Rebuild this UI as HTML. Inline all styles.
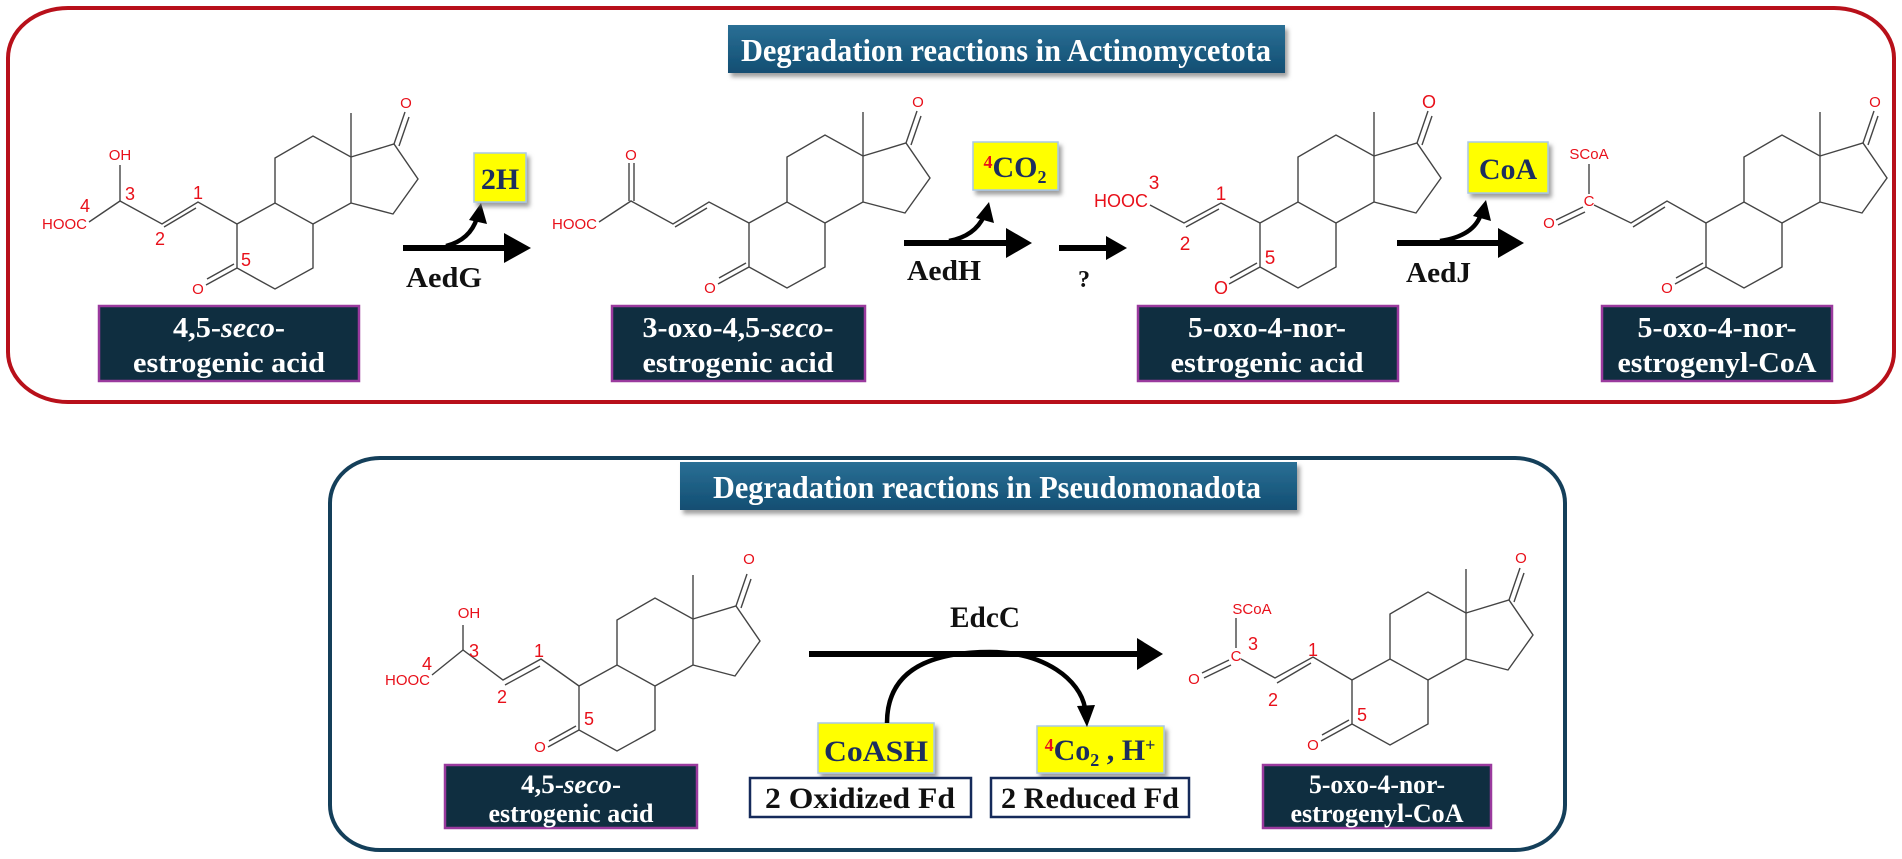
<!DOCTYPE html>
<html><head><meta charset="utf-8"><style>
html,body{margin:0;padding:0;background:#fff;}
svg{display:block;}
.b{stroke:#444;stroke-width:1.4;fill:none;}
.r{fill:#e8101a;font-family:"Liberation Sans",sans-serif;}
.s{font-family:"Liberation Serif",serif;font-weight:bold;}
</style></head><body>
<svg width="1902" height="859" viewBox="0 0 1902 859" xmlns="http://www.w3.org/2000/svg">
<defs>
<g id="core" class="b">
<polyline points="0,0 0,44 38,65 76,44 76,0 38,-21 0,0"/>
<polyline points="38,-21 38,-66 76,-88 114,-67 114,-21 76,0"/>
<line x1="114" y1="-67" x2="114" y2="-111"/>
<polyline points="114,-67 157,-80 181,-45 156,-10 114,-21"/>
<line x1="157" y1="-80" x2="168" y2="-112"/>
<line x1="162" y1="-78" x2="172" y2="-107"/>
<line x1="0" y1="44" x2="-31" y2="61"/>
<line x1="-3" y1="40" x2="-30" y2="55"/>
</g>
<filter id="sh" x="-10%" y="-10%" width="130%" height="140%"><feDropShadow dx="3" dy="4" stdDeviation="2" flood-color="#777" flood-opacity="0.7"/></filter>
<linearGradient id="tg" x1="0" y1="0" x2="0" y2="1"><stop offset="0" stop-color="#2a6f95"/><stop offset="1" stop-color="#124e72"/></linearGradient>
</defs>

<rect x="8" y="8" width="1886" height="394" rx="60" ry="50" fill="none" stroke="#b8101a" stroke-width="4"/>
<rect x="330" y="458" width="1235" height="392" rx="50" ry="45" fill="none" stroke="#143f5a" stroke-width="4"/>

<rect x="728" y="25" width="557" height="48" fill="url(#tg)" filter="url(#sh)"/>
<text x="1006" y="61" text-anchor="middle" class="s" font-size="32" fill="#fff" textLength="530" lengthAdjust="spacingAndGlyphs">Degradation reactions in Actinomycetota</text>
<rect x="680" y="462" width="617" height="48" fill="url(#tg)" filter="url(#sh)"/>
<text x="987" y="498" text-anchor="middle" class="s" font-size="32" fill="#fff" textLength="548" lengthAdjust="spacingAndGlyphs">Degradation reactions in Pseudomonadota</text>

<use href="#core" transform="translate(237,224)"/>
<g class="b">
<polyline points="237,224 198,202 162,224 120,201 89,222"/>
<line x1="196" y1="208" x2="164" y2="227"/>
<line x1="120" y1="201" x2="120" y2="165"/>
</g>
<g class="r" font-size="15">
<text x="87" y="229" text-anchor="end">HOOC</text>
<text x="120" y="160" text-anchor="middle">OH</text>
<text x="406" y="108" text-anchor="middle">O</text>
<text x="198" y="294" text-anchor="middle">O</text>
</g>
<g class="r" font-size="18" text-anchor="middle">
<text x="85" y="212">4</text><text x="130" y="200">3</text><text x="198" y="199">1</text><text x="160" y="245">2</text><text x="246" y="266">5</text>
</g>

<use href="#core" transform="translate(749,223)"/>
<g class="b">
<polyline points="749,223 709,202 673,224 631,201 599,222"/>
<line x1="707" y1="208" x2="675" y2="227"/>
<line x1="629" y1="201" x2="629" y2="163"/>
<line x1="634" y1="201" x2="634" y2="163"/>
</g>
<g class="r" font-size="15">
<text x="597" y="229" text-anchor="end">HOOC</text>
<text x="631" y="160" text-anchor="middle">O</text>
<text x="918" y="107" text-anchor="middle">O</text>
<text x="710" y="293" text-anchor="middle">O</text>
</g>

<use href="#core" transform="translate(1260,223)"/>
<g class="b">
<polyline points="1260,223 1221,203 1184,223 1150,205"/>
<line x1="1219" y1="209" x2="1186" y2="227"/>
</g>
<g class="r" font-size="18">
<text x="1148" y="207" text-anchor="end">HOOC</text>
<text x="1429" y="108" text-anchor="middle">O</text>
<text x="1221" y="294" text-anchor="middle">O</text>
</g>
<g class="r" font-size="19" text-anchor="middle">
<text x="1154" y="189">3</text><text x="1221" y="200">1</text><text x="1185" y="250">2</text><text x="1270" y="264">5</text>
</g>

<use href="#core" transform="translate(1706,223)"/>
<g class="b">
<polyline points="1706,223 1667,201 1631,223 1594,205"/>
<line x1="1665" y1="207" x2="1633" y2="227"/>
<line x1="1589" y1="194" x2="1589" y2="164"/>
<line x1="1583" y1="207" x2="1556" y2="220"/>
<line x1="1585" y1="212" x2="1558" y2="225"/>
</g>
<g class="r" font-size="15">
<text x="1589" y="206" text-anchor="middle">C</text>
<text x="1589" y="159" text-anchor="middle">SCoA</text>
<text x="1549" y="228" text-anchor="middle">O</text>
<text x="1875" y="107" text-anchor="middle">O</text>
<text x="1667" y="293" text-anchor="middle">O</text>
</g>

<g stroke="#9a3a9e" stroke-width="2.5" fill="#0f2e40">
<rect x="99" y="306" width="260" height="75"/>
<rect x="612" y="306" width="253" height="75"/>
<rect x="1138" y="306" width="260" height="75"/>
<rect x="1602" y="306" width="230" height="75"/>
</g>
<g class="s" font-size="29" fill="#fff" text-anchor="middle">
<text x="229" y="337" textLength="112" lengthAdjust="spacingAndGlyphs">4,5-<tspan font-style="italic">seco</tspan>-</text>
<text x="229" y="372" textLength="192" lengthAdjust="spacingAndGlyphs">estrogenic acid</text>
<text x="738" y="337" textLength="191" lengthAdjust="spacingAndGlyphs">3-oxo-4,5-<tspan font-style="italic">seco</tspan>-</text>
<text x="738" y="372" textLength="191" lengthAdjust="spacingAndGlyphs">estrogenic acid</text>
<text x="1267" y="337" textLength="158" lengthAdjust="spacingAndGlyphs">5-oxo-4-nor-</text>
<text x="1267" y="372" textLength="193" lengthAdjust="spacingAndGlyphs">estrogenic acid</text>
<text x="1717" y="337" textLength="159" lengthAdjust="spacingAndGlyphs">5-oxo-4-nor-</text>
<text x="1717" y="372" textLength="199" lengthAdjust="spacingAndGlyphs">estrogenyl-CoA</text>
</g>

<g fill="#000">
<rect x="403" y="245" width="105" height="6"/><polygon points="504,233 531,248 504,263"/>
<rect x="904" y="240" width="106" height="6"/><polygon points="1006,228 1032,243 1006,258"/>
<rect x="1059" y="245" width="50" height="6"/><polygon points="1106,236 1127,248 1106,260"/>
<rect x="1397" y="240" width="105" height="6"/><polygon points="1498,228 1524,243 1498,258"/>
</g>
<g fill="none" stroke="#000" stroke-width="4.5">
<path d="M446,246 Q470,240 477,218"/>
<path d="M949,241 Q975,236 984,216"/>
<path d="M1440,241 Q1474,236 1481,214"/>
</g>
<g fill="#000">
<polygon points="469,220 481,203 487,224"/>
<polygon points="976,218 989,202 994,223"/>
<polygon points="1473,216 1486,200 1491,221"/>
</g>
<g class="s" font-size="29" fill="#111">
<text x="406" y="287" textLength="76" lengthAdjust="spacingAndGlyphs">AedG</text>
<text x="907" y="280" textLength="74" lengthAdjust="spacingAndGlyphs">AedH</text>
<text x="1078" y="287" font-size="24">?</text>
<text x="1406" y="282" textLength="65" lengthAdjust="spacingAndGlyphs">AedJ</text>
</g>

<g fill="#ffff00" stroke="#a9c8e6" stroke-width="1.5" filter="url(#sh)">
<rect x="474" y="153" width="52" height="49"/>
<rect x="973" y="142" width="85" height="48"/>
<rect x="1468" y="142" width="80" height="51"/>
<rect x="818" y="723" width="116" height="50"/>
<rect x="1037" y="726" width="127" height="47"/>
</g>
<g class="s" font-size="30" fill="#1c2e5e" text-anchor="middle">
<text x="500" y="189">2H</text>
<text x="1015" y="177"><tspan fill="#e8101a" font-size="18" dy="-9">4</tspan><tspan dy="9">CO</tspan><tspan font-size="18" dy="6">2</tspan></text>
<text x="1508" y="179">CoA</text>
<text x="876" y="761" textLength="104" lengthAdjust="spacingAndGlyphs">CoASH</text>
<text x="1100" y="760"><tspan fill="#e8101a" font-size="18" dy="-9">4</tspan><tspan dy="9">Co</tspan><tspan font-size="18" dy="6">2</tspan><tspan dy="-6"> , H</tspan><tspan font-size="18" dy="-9">+</tspan></text>
</g>

<g fill="#fff" stroke="#152a5a" stroke-width="2.5">
<rect x="750" y="778" width="221" height="39"/>
<rect x="991" y="778" width="198" height="39"/>
</g>
<g class="s" font-size="30" fill="#111" text-anchor="middle">
<text x="860" y="808" textLength="190" lengthAdjust="spacingAndGlyphs">2 Oxidized Fd</text>
<text x="1090" y="808" textLength="178" lengthAdjust="spacingAndGlyphs">2 Reduced Fd</text>
</g>

<rect x="809" y="651" width="332" height="6" fill="#000"/>
<polygon points="1137,638 1163,654 1137,670" fill="#000"/>
<path d="M887,723 C887,670 930,652 990,652 C1045,652 1080,680 1085,708" fill="none" stroke="#000" stroke-width="4.5"/>
<polygon points="1077,706 1087,727 1095,705" fill="#000"/>
<text x="985" y="627" text-anchor="middle" class="s" font-size="30" fill="#111" textLength="70" lengthAdjust="spacingAndGlyphs">EdcC</text>

<use href="#core" transform="translate(579,686)"/>
<g class="b">
<polyline points="579,686 541,659 503,680 463,650 432,675"/>
<line x1="540" y1="666" x2="505" y2="685"/>
<line x1="463" y1="650" x2="463" y2="625"/>
</g>
<g class="r" font-size="15">
<text x="430" y="685" text-anchor="end">HOOC</text>
<text x="469" y="618" text-anchor="middle">OH</text>
<text x="749" y="564" text-anchor="middle">O</text>
<text x="540" y="752" text-anchor="middle">O</text>
</g>
<g class="r" font-size="18" text-anchor="middle">
<text x="427" y="670">4</text><text x="474" y="657">3</text><text x="539" y="657">1</text><text x="502" y="703">2</text><text x="589" y="725">5</text>
</g>

<use href="#core" transform="translate(1352,680)"/>
<g class="b">
<polyline points="1352,680 1313,657 1275,678 1241,659"/>
<line x1="1311" y1="663" x2="1277" y2="683"/>
<line x1="1236" y1="648" x2="1236" y2="618"/>
<line x1="1229" y1="660" x2="1202" y2="673"/>
<line x1="1231" y1="665" x2="1204" y2="678"/>
</g>
<g class="r" font-size="15">
<text x="1236" y="661" text-anchor="middle">C</text>
<text x="1252" y="614" text-anchor="middle">SCoA</text>
<text x="1194" y="684" text-anchor="middle">O</text>
<text x="1521" y="563" text-anchor="middle">O</text>
<text x="1313" y="750" text-anchor="middle">O</text>
</g>
<g class="r" font-size="18" text-anchor="middle">
<text x="1253" y="650">3</text><text x="1313" y="656">1</text><text x="1273" y="706">2</text><text x="1362" y="721">5</text>
</g>

<g stroke="#9a3a9e" stroke-width="2.5" fill="#0f2e40">
<rect x="445" y="765" width="252" height="63"/>
<rect x="1263" y="765" width="228" height="63"/>
</g>
<g class="s" font-size="26" fill="#fff" text-anchor="middle">
<text x="571" y="793" textLength="100" lengthAdjust="spacingAndGlyphs">4,5-<tspan font-style="italic">seco</tspan>-</text>
<text x="571" y="822" textLength="165" lengthAdjust="spacingAndGlyphs">estrogenic acid</text>
<text x="1377" y="793" textLength="136" lengthAdjust="spacingAndGlyphs">5-oxo-4-nor-</text>
<text x="1377" y="822" textLength="173" lengthAdjust="spacingAndGlyphs">estrogenyl-CoA</text>
</g>
</svg>
</body></html>
